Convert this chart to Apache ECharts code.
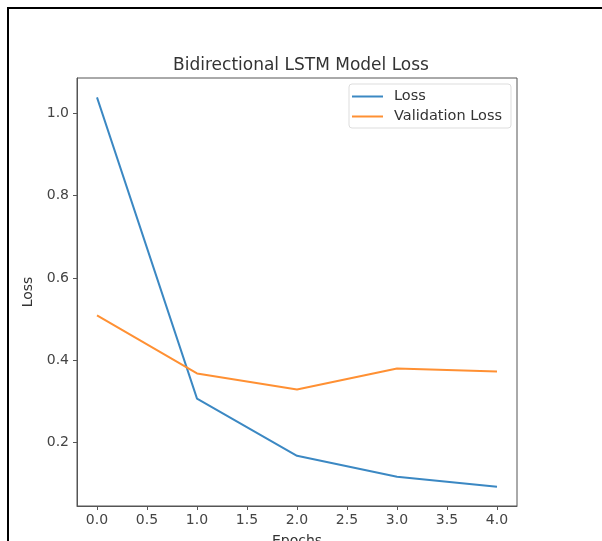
<!DOCTYPE html>
<html>
  <head>
    <meta charset="utf-8" />
    <title>Bidirectional LSTM Model Loss</title>
    <script src="https://cdn.jsdelivr.net/npm/echarts@6.0.0/dist/echarts.min.js"></script>
    <style>
      body { margin: 0; background: #fff; }
    </style>
  </head>
  <body>
    <div id="main" style="width: 602px; height: 541px"></div>
    <script type="text/javascript">
      // values
      var epochs = [0, 1, 2, 3, 4];
      var loss = [1.039, 0.307, 0.168, 0.117, 0.093];
      var valLoss = [0.509, 0.368, 0.329, 0.38, 0.373];
      var xTicks = [0, 0.5, 1, 1.5, 2, 2.5, 3, 3.5, 4];
      var yTicks = [0.2, 0.4, 0.6, 0.8, 1.0];

      var myChart = echarts.init(document.getElementById("main"));
      var font = "DejaVu Sans";

      var option = {
        backgroundColor: "#fff",
        animation: false,
        textStyle: { fontFamily: font },
        title: {
          text: "Bidirectional LSTM Model Loss",
          left: 296,
          textAlign: "center",
          top: 52,
          textStyle: { fontFamily: font, fontSize: 17, fontWeight: "normal", color: "#333" },
        },
        graphic: [
          { type: "rect", shape: { x: 7, y: 7, width: 2, height: 534 }, style: { fill: "#000" } },
          { type: "rect", shape: { x: 7, y: 7, width: 595, height: 2 }, style: { fill: "#000" } },
        ],
        legend: {
          orient: "vertical",
          left: 349,
          top: 84,
          padding: [5, 9, 4, 3],
          itemGap: 5,
          itemWidth: 31,
          itemHeight: 2,
          icon: "rect",
          borderColor: "#ddd",
          borderWidth: 1,
          borderRadius: 3,
          backgroundColor: "#fff",
          textStyle: { fontFamily: font, fontSize: 14.5, color: "#333", padding: [0, 0, 0, 6] },
          data: ["Loss", "Validation Loss"],
        },
        grid: {
          left: 77,
          right: 85,
          top: 78,
          bottom: 35,
          outerBoundsMode: "none",
          show: true,
          borderColor: "#555",
          borderWidth: 1,
        },
        xAxis: {
          type: "value",
          min: -0.2,
          max: 4.2,
          name: "Epochs",
          nameLocation: "middle",
          nameGap: 28,
          nameTextStyle: { fontFamily: font, fontSize: 14, color: "#333" },
          axisLine: { show: true, onZero: false, lineStyle: { color: "#555" } },
          splitLine: { show: false },
          axisTick: { show: true, length: 4, lineStyle: { color: "#555" }, customValues: xTicks },
          axisLabel: {
            customValues: xTicks,
            fontFamily: font,
            fontSize: 14,
            color: "#444",
            margin: 7,
            formatter: function (v) { return v.toFixed(1); },
          },
        },
        yAxis: {
          type: "value",
          min: 0.046,
          max: 1.086,
          name: "Loss",
          nameLocation: "middle",
          nameGap: 40,
          nameTextStyle: { fontFamily: font, fontSize: 14, color: "#333" },
          axisLine: { show: true, onZero: false, lineStyle: { color: "#555" } },
          splitLine: { show: false },
          axisTick: { show: true, length: 4, lineStyle: { color: "#555" }, customValues: yTicks },
          axisLabel: {
            customValues: yTicks,
            fontFamily: font,
            fontSize: 14,
            color: "#444",
            margin: 8,
            formatter: function (v) { return v.toFixed(1); },
          },
        },
        series: [
          {
            name: "Loss",
            type: "line",
            data: epochs.map(function (e, i) { return [e, loss[i]]; }),
            showSymbol: false,
            color: "#3b88c3",
            lineStyle: { width: 2 },
          },
          {
            name: "Validation Loss",
            type: "line",
            data: epochs.map(function (e, i) { return [e, valLoss[i]]; }),
            showSymbol: false,
            color: "#ff9033",
            lineStyle: { width: 2 },
          },
        ],
      };

      myChart.setOption(option);
    </script>
  </body>
</html>
